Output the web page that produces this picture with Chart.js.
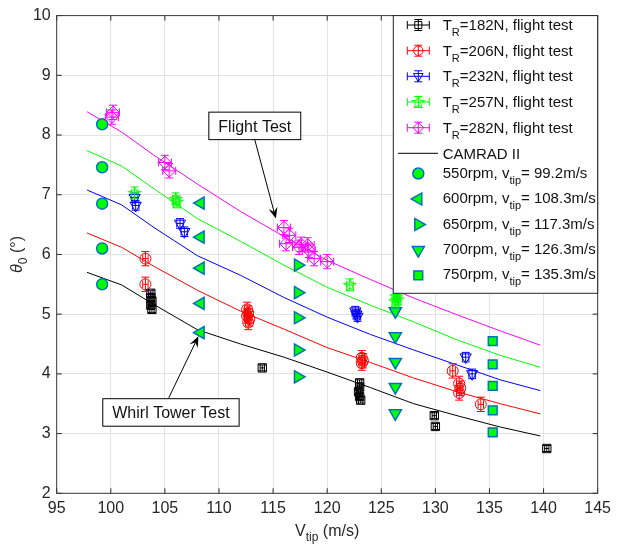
<!DOCTYPE html>
<html><head><meta charset="utf-8">
<script src="https://cdn.jsdelivr.net/npm/chart.js@4.4.0/dist/chart.umd.min.js"></script>
<style>html,body{margin:0;padding:0;background:#fff;}#wrap{width:617px;height:551px;}</style>
</head><body><div id="wrap"><canvas id="c" width="617" height="551"></canvas></div>
<script>
// ---------- tick labels ----------
const xTicks = [95,100,105,110,115,120,125,130,135,140,145];
const yTicks = [2,3,4,5,6,7,8,9,10];

// ---------- flight test data ----------
const t182X = [103.7,103.7,103.8,103.7,103.8,114.0,123.0,123.0,122.9,123.0,123.1,129.9,130.0,140.3];
const t182Y = [5.35,5.28,5.22,5.15,5.08,4.10,3.85,3.78,3.70,3.62,3.56,3.30,3.12,2.75];
const t206X = [103.2,103.2,112.6,112.7,112.6,112.8,112.7,123.2,123.3,123.2,131.6,132.2,132.3,132.2,134.2];
const t206Y = [5.93,5.50,5.08,5.02,4.97,4.92,4.86,4.27,4.22,4.18,4.05,3.84,3.76,3.68,3.49];
const t232X = [102.2,102.3,106.4,106.8,122.6,122.7,122.8,132.8,133.4];
const t232Y = [6.95,6.82,6.52,6.38,5.05,5.00,4.96,4.28,4.00];
const t257X = [102.2,106.0,106.1,122.1,126.4,126.5,126.3];
const t257Y = [7.03,6.93,6.88,5.49,5.30,5.25,5.22];
const t282X = [100.2,100.1,105.0,105.4,116.0,116.5,116.2,117.4,117.6,118.2,118.3,118.8,120.0];
const t282Y = [8.38,8.30,7.54,7.40,6.45,6.32,6.18,6.12,6.17,6.16,6.07,5.93,5.88];
const flightErrX = [0.2,0.25,0.3,0.3,0.6];
const flightErrY = [0.05,0.12,0.08,0.1,0.12];

// ---------- CAMRAD II curves ----------
const camradX   = [97.8,101,104,108,112,116,120,124,128,132,136,139.7];
const camrad182 = [5.70,5.49,5.16,4.74,4.50,4.28,4.03,3.77,3.50,3.30,3.11,2.96];
const camrad206 = [6.36,6.12,5.80,5.40,5.05,4.75,4.44,4.19,3.93,3.70,3.50,3.33];
const camrad232 = [7.08,6.83,6.45,5.98,5.65,5.28,4.95,4.66,4.40,4.15,3.90,3.72];
const camrad257 = [7.74,7.48,7.10,6.60,6.22,5.82,5.45,5.15,4.87,4.57,4.31,4.11];
const camrad282 = [8.39,8.05,7.66,7.18,6.72,6.30,5.90,5.58,5.27,4.99,4.72,4.48];

// ---------- whirl tower (CAMRAD points at rpm) ----------
const rpmX   = [99.2,108.3,117.3,126.3,135.3];
const rpm550 = [8.18,7.46,6.85,6.10,5.50];
const rpm600 = [6.86,6.29,5.77,5.18,4.69];
const rpm650 = [5.82,5.36,4.94,4.40,3.95];
const rpm700 = [5.05,4.63,4.20,3.78,3.34];
const rpm750 = [4.55,4.16,3.80,3.39,3.02];

// ---------- legend labels ----------
const legendFlight = [
  ['T','R','=182N, flight test'],
  ['T','R','=206N, flight test'],
  ['T','R','=232N, flight test'],
  ['T','R','=257N, flight test'],
  ['T','R','=282N, flight test']
];
const legendCamrad = 'CAMRAD II';
const legendRpm = [
  ['550rpm, v','tip','= 99.2m/s'],
  ['600rpm, v','tip','= 108.3m/s'],
  ['650rpm, v','tip','= 117.3m/s'],
  ['700rpm, v','tip','= 126.3m/s'],
  ['750rpm, v','tip','= 135.3m/s']
];

// annotation anchors in data units
const flightNote = {text:'Flight Test', box:[113.31,8.153], tail:[113.31,7.92], tip:[115.26,6.60]};
const whirlNote  = {text:'Whirl Tower Test', box:[105.56,3.354], tail:[105.36,3.60], tip:[108.1,4.63]};

// ---------- styling ----------
const FONT = '"Liberation Sans", Arial, Helvetica, sans-serif';
const GREEN = '#00ff00', EDGE = '#0072BD';
const flightColors = ['#000000','#ff0000','#0000ff','#00ff00','#ff00ff'];

// pentagram marker
const starCanvas = document.createElement('canvas');
starCanvas.width = 16; starCanvas.height = 16;
(function(){
  const c = starCanvas.getContext('2d');
  c.strokeStyle = '#00ff00'; c.lineWidth = 1;
  c.beginPath();
  for (let k=0;k<10;k++){
    const r = k%2===0 ? 6.8 : 2.7;
    const a = -Math.PI/2 + k*Math.PI/5;
    const px = 8 + r*Math.cos(a), py = 8.5 + r*Math.sin(a);
    if(k===0) c.moveTo(px,py); else c.lineTo(px,py);
  }
  c.closePath(); c.stroke();
})();

const flightStyles = [
  {pointStyle:'rect', radius:5.9, rot:0},
  {pointStyle:'circle', radius:5.5, rot:0},
  {pointStyle:'triangle', radius:6.5, rot:180},
  {pointStyle:starCanvas, radius:7, rot:0},
  {pointStyle:'rectRot', radius:6.3, rot:0}
];
const rpmStyles = [
  {pointStyle:'circle', radius:5.5, rot:0},
  {pointStyle:'triangle', radius:7, rot:270},
  {pointStyle:'triangle', radius:7, rot:90},
  {pointStyle:'triangle', radius:7, rot:180},
  {pointStyle:'rect', radius:6.2, rot:0}
];

const toPts = (xs, ys) => ys.map((y,i)=>({x:xs[i], y}));
const flightX = [t182X,t206X,t232X,t257X,t282X];
const flightY = [t182Y,t206Y,t232Y,t257Y,t282Y];
const rpmSeries = [rpm550,rpm600,rpm650,rpm700,rpm750];
const camradSeries = [camrad182,camrad206,camrad232,camrad257,camrad282];

const datasets = [];
flightX.forEach((xs,i)=>{
  datasets.push({
    label:'flight'+i, data:toPts(xs, flightY[i]), showLine:false,
    pointStyle:flightStyles[i].pointStyle, pointRadius:flightStyles[i].radius,
    pointRotation:flightStyles[i].rot, borderColor:flightColors[i],
    backgroundColor:'rgba(0,0,0,0)', pointBorderWidth:1,
    errX:flightErrX[i], errY:flightErrY[i]
  });
});
rpmSeries.forEach((ys,i)=>{
  datasets.push({
    label:'rpm'+i, data:ys.map(y=>({x:rpmX[i], y})), showLine:false,
    pointStyle:rpmStyles[i].pointStyle, pointRadius:rpmStyles[i].radius,
    pointRotation:rpmStyles[i].rot, borderColor:EDGE, backgroundColor:GREEN,
    pointBorderWidth:1.5
  });
});
camradSeries.forEach((ys,i)=>{
  datasets.push({
    label:'camrad'+i, data:toPts(camradX, ys), showLine:true, pointRadius:0,
    borderColor:flightColors[i], borderWidth:1, fill:false, tension:0
  });
});

// ---------- helper marker drawer for legend ----------
function drawMark(ctx, st, x, y, stroke, fill, lw){
  ctx.save();
  ctx.strokeStyle = stroke; ctx.fillStyle = fill; ctx.lineWidth = lw;
  const r = st.radius;
  if (st.pointStyle instanceof HTMLCanvasElement){
    ctx.drawImage(st.pointStyle, x - st.pointStyle.width/2, y - st.pointStyle.height/2);
    ctx.restore(); return;
  }
  ctx.beginPath();
  if (st.pointStyle==='circle'){ ctx.arc(x,y,r,0,Math.PI*2); }
  else if (st.pointStyle==='rect'){ const s=r*Math.SQRT1_2; ctx.rect(x-s,y-s,2*s,2*s); }
  else if (st.pointStyle==='rectRot'){ ctx.moveTo(x,y-r); ctx.lineTo(x+r,y); ctx.lineTo(x,y+r); ctx.lineTo(x-r,y); ctx.closePath(); }
  else if (st.pointStyle==='triangle'){
    let a = st.rot*Math.PI/180;
    ctx.moveTo(x+Math.sin(a)*r, y-Math.cos(a)*r);
    a += 2*Math.PI/3; ctx.lineTo(x+Math.sin(a)*r, y-Math.cos(a)*r);
    a += 2*Math.PI/3; ctx.lineTo(x+Math.sin(a)*r, y-Math.cos(a)*r);
    ctx.closePath();
  }
  if (fill!=='none') ctx.fill();
  ctx.stroke();
  ctx.restore();
}
function drawSubText(ctx, x, y, parts, size){
  ctx.font = size+'px '+FONT; ctx.fillText(parts[0], x, y);
  x += ctx.measureText(parts[0]).width;
  const subSize = Math.round(size*0.73);
  ctx.font = subSize+'px '+FONT; ctx.fillText(parts[1], x, y+6);
  x += ctx.measureText(parts[1]).width;
  ctx.font = size+'px '+FONT; ctx.fillText(parts[2], x, y);
}

const CAP = 4;
const errPlugin = {
  id:'errbars',
  afterDatasetsDraw(chart){
    const ctx = chart.ctx, xs = chart.scales.x, ys = chart.scales.y;
    chart.data.datasets.forEach(ds=>{
      if (ds.errX===undefined) return;
      ctx.save(); ctx.strokeStyle = ds.borderColor; ctx.lineWidth = 1;
      ds.data.forEach(p=>{
        const cx = xs.getPixelForValue(p.x), cy = ys.getPixelForValue(p.y);
        const x0 = xs.getPixelForValue(p.x-ds.errX), x1 = xs.getPixelForValue(p.x+ds.errX);
        const y0 = ys.getPixelForValue(p.y-ds.errY), y1 = ys.getPixelForValue(p.y+ds.errY);
        ctx.beginPath();
        ctx.moveTo(x0,cy); ctx.lineTo(x1,cy);
        ctx.moveTo(x0,cy-CAP); ctx.lineTo(x0,cy+CAP);
        ctx.moveTo(x1,cy-CAP); ctx.lineTo(x1,cy+CAP);
        ctx.moveTo(cx,y0); ctx.lineTo(cx,y1);
        ctx.moveTo(cx-CAP,y0); ctx.lineTo(cx+CAP,y0);
        ctx.moveTo(cx-CAP,y1); ctx.lineTo(cx+CAP,y1);
        ctx.stroke();
      });
      ctx.restore();
    });
  }
};

function drawArrow(ctx, x0,y0,x1,y1){
  const ang = Math.atan2(y1-y0, x1-x0);
  const L = 11, W = 4.5, N = 7;
  ctx.beginPath(); ctx.moveTo(x0,y0);
  ctx.lineTo(x1 - Math.cos(ang)*N, y1 - Math.sin(ang)*N); ctx.stroke();
  ctx.beginPath();
  ctx.moveTo(x1,y1);
  ctx.lineTo(x1 - Math.cos(ang)*L - Math.sin(ang)*W, y1 - Math.sin(ang)*L + Math.cos(ang)*W);
  ctx.lineTo(x1 - Math.cos(ang)*N, y1 - Math.sin(ang)*N);
  ctx.lineTo(x1 - Math.cos(ang)*L + Math.sin(ang)*W, y1 - Math.sin(ang)*L - Math.cos(ang)*W);
  ctx.closePath(); ctx.fill();
}

const decorPlugin = {
  id:'decor',
  beforeDatasetsDraw(chart){
    const ctx = chart.ctx, a = chart.chartArea, xs = chart.scales.x, ys = chart.scales.y;
    ctx.save();
    ctx.strokeStyle = '#262626'; ctx.lineWidth = 1;
    ctx.beginPath();
    xTicks.forEach(v=>{ const p = xs.getPixelForValue(v);
      ctx.moveTo(p,a.bottom); ctx.lineTo(p,a.bottom-5);
      ctx.moveTo(p,a.top); ctx.lineTo(p,a.top+5); });
    yTicks.forEach(v=>{ const p = ys.getPixelForValue(v);
      ctx.moveTo(a.left,p); ctx.lineTo(a.left+5,p);
      ctx.moveTo(a.right,p); ctx.lineTo(a.right-5,p); });
    ctx.stroke();
    ctx.strokeStyle = '#3a3a3a';
    ctx.strokeRect(a.left, a.top, a.right-a.left, a.bottom-a.top);
    ctx.restore();
  },
  afterDraw(chart){
    const ctx = chart.ctx, a = chart.chartArea, xs = chart.scales.x, ys = chart.scales.y;
    ctx.save();
    // annotations
    [flightNote, whirlNote].forEach(n=>{
      ctx.font = '16px '+FONT;
      const tw = ctx.measureText(n.text).width;
      const bw = tw + 19, bh = 27.5;
      const cx = xs.getPixelForValue(n.box[0]), cy = ys.getPixelForValue(n.box[1]);
      ctx.fillStyle = '#fff'; ctx.fillRect(cx-bw/2, cy-bh/2, bw, bh);
      ctx.strokeStyle = '#000'; ctx.lineWidth = 1;
      ctx.strokeRect(cx-bw/2, cy-bh/2, bw, bh);
      ctx.fillStyle = '#111'; ctx.textAlign='center'; ctx.textBaseline='alphabetic';
      ctx.fillText(n.text, cx, cy+6);
      ctx.textAlign='left';
      ctx.strokeStyle='#000'; ctx.fillStyle='#000'; ctx.lineWidth=1;
      drawArrow(ctx, xs.getPixelForValue(n.tail[0]), ys.getPixelForValue(n.tail[1]),
                     xs.getPixelForValue(n.tip[0]), ys.getPixelForValue(n.tip[1]));
    });
    // axis titles
    ctx.fillStyle = '#262626'; ctx.textBaseline = 'alphabetic';
    ctx.font = '16px '+FONT;
    const p1 = 'V', p2 = 'tip', p3 = ' (m/s)';
    const w1 = ctx.measureText(p1).width, w3 = ctx.measureText(p3).width;
    ctx.font = '12px '+FONT; const w2 = ctx.measureText(p2).width;
    let tx = (a.left+a.right)/2 - (w1+w2+w3)/2;
    const ty = 536;
    ctx.font = '16px '+FONT; ctx.fillText(p1, tx, ty); tx += w1;
    ctx.font = '12px '+FONT; ctx.fillText(p2, tx, ty+5); tx += w2;
    ctx.font = '16px '+FONT; ctx.fillText(p3, tx, ty);
    // y title
    ctx.save();
    ctx.translate(21.5, (a.top+a.bottom)/2); ctx.rotate(-Math.PI/2);
    ctx.font = 'italic 16px '+FONT; const q1 = '\u03B8'; const qw1 = ctx.measureText(q1).width;
    ctx.font = '12px '+FONT; const q2 = '0'; const qw2 = ctx.measureText(q2).width;
    ctx.font = '16px '+FONT; const q3 = ' (\u00B0)'; const qw3 = ctx.measureText(q3).width;
    let qx = -(qw1+qw2+qw3)/2;
    ctx.font = 'italic 16px '+FONT; ctx.fillText(q1, qx, 0); qx += qw1;
    ctx.font = '12px '+FONT; ctx.fillText(q2, qx, 5); qx += qw2;
    ctx.font = '16px '+FONT; ctx.fillText(q3, qx, 0);
    ctx.restore();

    // legend
    const lx = 393.3, ly = a.top, lw = a.right - 393.3, lh = 277.7;
    ctx.fillStyle = '#fff'; ctx.fillRect(lx, ly, lw, lh);
    ctx.strokeStyle = '#262626'; ctx.lineWidth = 1; ctx.strokeRect(lx, ly, lw, lh);
    const mx = 418.3, txx = 442.7;
    const rowsF = [25, 50.7, 76.3, 102, 127.7];
    ctx.fillStyle = '#111';
    legendFlight.forEach((parts,i)=>{
      const y = rowsF[i];
      ctx.strokeStyle = flightColors[i]; ctx.lineWidth = 1;
      ctx.beginPath();
      ctx.moveTo(mx-11,y); ctx.lineTo(mx+11,y);
      ctx.moveTo(mx-11,y-CAP); ctx.lineTo(mx-11,y+CAP);
      ctx.moveTo(mx+11,y-CAP); ctx.lineTo(mx+11,y+CAP);
      ctx.moveTo(mx,y-5.5); ctx.lineTo(mx,y+5.5);
      ctx.moveTo(mx-CAP,y-5.5); ctx.lineTo(mx+CAP,y-5.5);
      ctx.moveTo(mx-CAP,y+5.5); ctx.lineTo(mx+CAP,y+5.5);
      ctx.stroke();
      drawMark(ctx, {pointStyle:flightStyles[i].pointStyle, radius:flightStyles[i].radius*0.85, rot:flightStyles[i].rot}, mx, y, flightColors[i], 'none', 1);
      ctx.fillStyle = '#111';
      drawSubText(ctx, txx, y+5, parts, 15);
    });
    // CAMRAD line
    ctx.strokeStyle = '#000'; ctx.lineWidth = 1;
    ctx.beginPath(); ctx.moveTo(398, 153.3); ctx.lineTo(438, 153.3); ctx.stroke();
    ctx.font = '15px '+FONT; ctx.fillStyle = '#111';
    ctx.fillText(legendCamrad, txx, 158.5);
    const rowsR = [173.5, 199, 224.5, 250, 275.3];
    legendRpm.forEach((parts,i)=>{
      const y = rowsR[i];
      drawMark(ctx, rpmStyles[i], mx, y, EDGE, GREEN, 1.5);
      ctx.fillStyle = '#111';
      drawSubText(ctx, txx, y+4, parts, 15);
    });
    ctx.restore();
  }
};

new Chart(document.getElementById('c'), {
  type:'scatter',
  data:{datasets},
  options:{
    responsive:false, animation:false, devicePixelRatio:1,
    layout:{padding:{top:12.3, right:13.3, left:0, bottom:0}},
    plugins:{legend:{display:false}, tooltip:{enabled:false}},
    scales:{
      x:{type:'linear', min:95, max:145,
        afterBuildTicks:s=>{ s.ticks = xTicks.map(v=>({value:v})); },
        afterFit:s=>{ s.height = 57.7; },
        ticks:{autoSkip:false, maxRotation:0, minRotation:0, padding:6, color:'#262626', font:{family:FONT, size:16}},
        grid:{color:'#e3e3e3', drawTicks:false, lineWidth:1},
        border:{display:false}},
      y:{type:'linear', min:2, max:10,
        afterBuildTicks:s=>{ s.ticks = yTicks.map(v=>({value:v})); },
        afterFit:s=>{ s.width = 56.7; },
        ticks:{autoSkip:false, padding:6, color:'#262626', font:{family:FONT, size:16}},
        grid:{color:'#e3e3e3', drawTicks:false, lineWidth:1},
        border:{display:false}}
    }
  },
  plugins:[errPlugin, decorPlugin]
});
</script></body></html>
